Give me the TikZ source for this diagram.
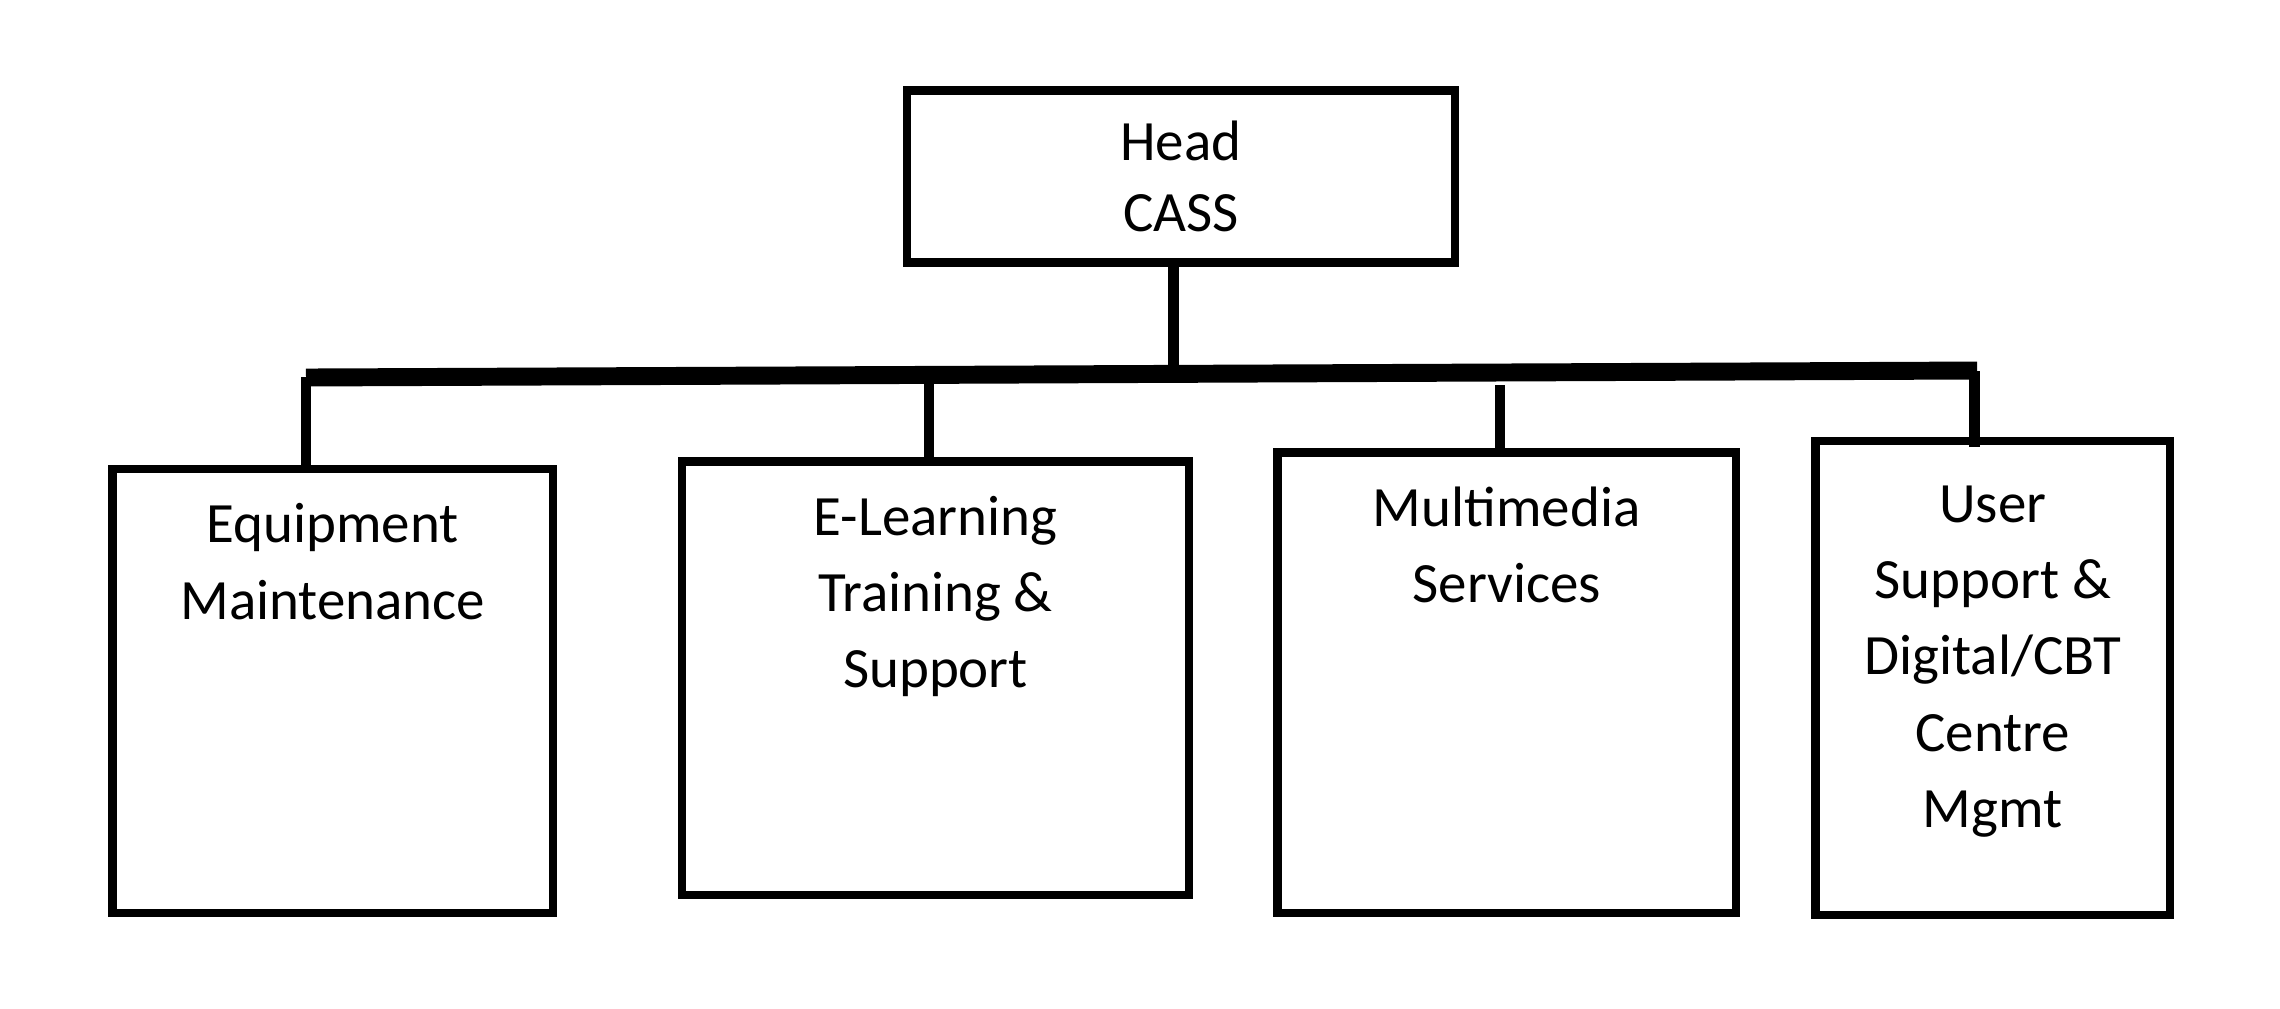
\documentclass[tikz,border=0pt]{standalone}
\usepackage{fontspec}
\setmainfont{Carlito}
\usepackage{tikz}
\pgfdeclarelayer{nodelayer}
\pgfdeclarelayer{edgelayer}
\pgfsetlayers{nodelayer, edgelayer, main}

\begin{document}
\begin{tikzpicture} [x=0.01cm, y=-0.01cm,
	box/.style={draw, line width=2.4pt, inner sep=0, outer sep=0},
	txt/.style={align=center, inner sep=0, anchor=north, font=\fontsize{16.2pt}{21.7pt}\selectfont},
	bar/.style={line width=5.1pt},
	stem/.style={line width=3.1pt}]
	\useasboundingbox (0,0) rectangle (2280,1008);
	\begin{pgfonlayer}{nodelayer}
        \node[box, minimum width=5.475cm, minimum height=1.72cm, align=center, font=\fontsize{16.2pt}{20.2pt}\selectfont] (0) at (1181,176.5) {Head\\CASS};
        \node[box, minimum width=4.405cm, minimum height=4.44cm] (1) at (332.75,691) {};
        \node[box, minimum width=5.07cm, minimum height=4.335cm] (2) at (935.5,678.25) {};
        \node[box, minimum width=4.585cm, minimum height=4.605cm] (3) at (1506.75,682.75) {};
        \node[box, minimum width=3.545cm, minimum height=4.74cm] (4) at (1992.75,678) {};
        \node[txt] (1t) at ([yshift=-0.34cm]1.north) {Equipment\\Maintenance};
        \node[txt] (2t) at ([yshift=-0.34cm]2.north) {E-Learning\\Training \&\\Support};
        \node[txt] (3t) at ([yshift=-0.34cm]3.north) {Multimedia\\Services};
        \node[txt] (4t) at ([yshift=-0.44cm]4.north) {User\\Support \&\\Digital/CBT\\Centre\\Mgmt};
        \coordinate (l) at (306,377.5);
        \coordinate (r) at (1977,370.5);
	\end{pgfonlayer}
	\begin{pgfonlayer}{edgelayer}
        \draw[bar] (l) -- (r);
        \draw[stem] ([xshift=-0.075cm]0.south) -- ++(0,111.5);
        \draw[stem] ([xshift=-0.2675cm]1.north) -- ++(0,-91.5);
        \draw[stem] ([xshift=-0.065cm]2.north) -- ++(0,-87);
        \draw[stem] ([xshift=-0.0675cm]3.north) -- ++(0,-67.5);
        \draw[stem] ([shift={(-18.25,6)}]4.north) -- ++(0,-76);
	\end{pgfonlayer}
    \end{tikzpicture}
\end{document}
